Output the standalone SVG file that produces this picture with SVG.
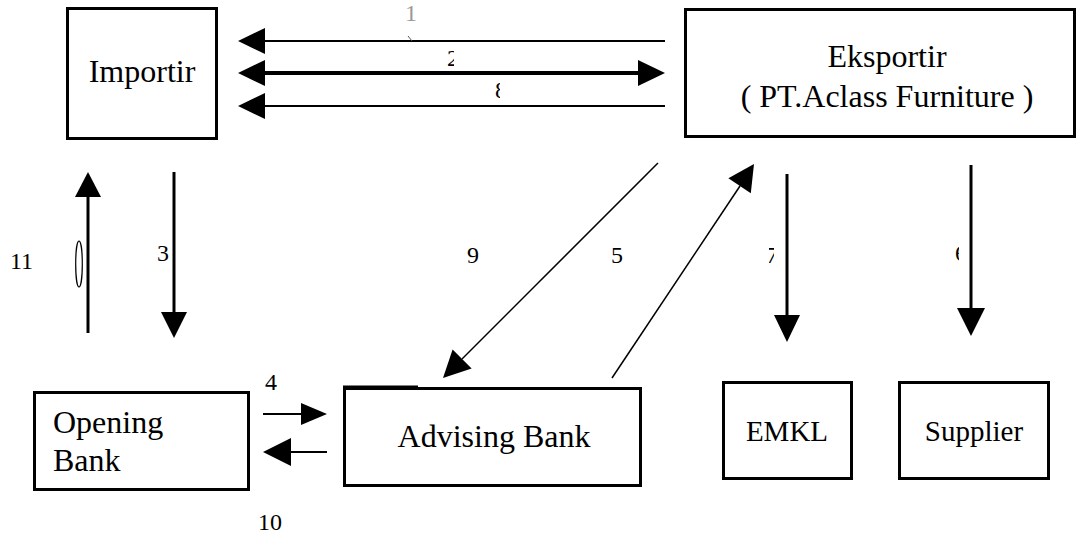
<svg xmlns="http://www.w3.org/2000/svg" width="1078" height="536" viewBox="0 0 1078 536">
  <style>
    .box { fill: #fff; stroke: #000; stroke-width: 3; }
    text { font-family: "Liberation Serif", serif; fill: #000; }
    .big { font-size: 32px; }
    .mid { font-size: 29px; }
    .num { font-size: 24px; }
    .ln { stroke: #000; fill: none; }
    .thin { stroke-width: 2; }
    .hair { stroke-width: 1.5; }
    .thick { stroke-width: 3; }
    .head { fill: #000; stroke: none; }
  </style>
  <defs>
    <clipPath id="clip2"><rect x="440" y="44" width="14" height="26"/></clipPath>
    <clipPath id="clip8"><rect x="490" y="78" width="10" height="24"/></clipPath>
    <clipPath id="clip7"><rect x="769" y="246" width="5" height="18"/></clipPath>
    <clipPath id="clip6"><rect x="950" y="240" width="9" height="24"/></clipPath>
  </defs>
  <rect width="1078" height="536" fill="#fff"/>

  <!-- connectors -->
  <g id="connectors">
    <!-- top flows between the two parties -->
    <line class="ln thin" x1="265" y1="41" x2="665" y2="41"/>
    <polygon class="head" points="238,41 265,28 265,54"/>
    <line class="ln" stroke-width="4" x1="265" y1="73" x2="638" y2="73"/>
    <polygon class="head" points="238,73 265,60 265,86"/>
    <polygon class="head" points="665,73 638,60 638,86"/>
    <line class="ln thin" x1="265" y1="106" x2="665" y2="106"/>
    <polygon class="head" points="238,106 265,93 265,119"/>

    <!-- importir / opening bank -->
    <line class="ln thick" x1="88" y1="197" x2="88" y2="333"/>
    <polygon class="head" points="88,172 75,197 101,197"/>
    <ellipse cx="79" cy="264" rx="3.3" ry="23" fill="none" stroke="#000" stroke-width="1.2"/>
    <line class="ln thick" x1="174" y1="172" x2="174" y2="312"/>
    <polygon class="head" points="174,338 161,312 187,312"/>

    <!-- diagonals to the advising bank -->
    <line class="ln hair" x1="658" y1="163" x2="462" y2="359"/>
    <polygon class="head" points="443,378 471.6,368.4 452.6,349.4"/>
    <line class="ln hair" x1="612" y1="378" x2="740" y2="186"/>
    <polygon class="head" points="754,164 750.8,193.2 728.4,178.2"/>

    <!-- eksportir to EMKL and supplier -->
    <line class="ln thick" x1="787" y1="174" x2="787" y2="315"/>
    <polygon class="head" points="787,342 774,315 800,315"/>
    <line class="ln thick" x1="971" y1="165" x2="971" y2="308"/>
    <polygon class="head" points="971,336 957,308 985,308"/>

    <!-- between the banks -->
    <line class="ln thin" x1="263" y1="414" x2="301" y2="414"/>
    <polygon class="head" points="327,414 301,403 301,425"/>
    <line class="ln thin" x1="291" y1="452" x2="327" y2="452"/>
    <polygon class="head" points="263,452 291,438 291,466"/>
  </g>

  <!-- nodes -->
  <g id="importir">
    <rect class="box" x="67.5" y="8.5" width="149" height="130"/>
    <text class="big" x="142" y="82" text-anchor="middle">Importir</text>
  </g>
  <g id="eksportir">
    <rect class="box" x="685.5" y="9.5" width="389" height="127"/>
    <text class="big" x="887" y="67" text-anchor="middle">Eksportir</text>
    <text class="big" x="887" y="107" text-anchor="middle">( PT.Aclass Furniture )</text>
  </g>
  <g id="opening-bank">
    <rect class="box" x="34.5" y="392.5" width="214" height="97"/>
    <text class="big" x="53" y="433">Opening</text>
    <text class="big" x="53" y="471">Bank</text>
  </g>
  <g id="advising-bank">
    <rect class="box" x="344.5" y="388.5" width="296" height="97"/>
    <line x1="343" y1="386.5" x2="418" y2="386.5" stroke="#000" stroke-width="2"/>
    <text class="big" x="494" y="447" text-anchor="middle">Advising Bank</text>
  </g>
  <g id="emkl">
    <rect class="box" x="723.5" y="382.5" width="128" height="96"/>
    <text class="mid" x="787" y="441" text-anchor="middle">EMKL</text>
  </g>
  <g id="supplier">
    <rect class="box" x="899.5" y="382.5" width="149" height="96"/>
    <text class="mid" x="974" y="441" text-anchor="middle">Supplier</text>
  </g>

  <!-- step numbers -->
  <g id="labels">
    <text class="num" x="405" y="21" style="fill:#999">1</text>
    <line x1="408" y1="36" x2="412" y2="41" stroke="#555" stroke-width="1"/>
    <text class="num" x="447" y="66" clip-path="url(#clip2)">2</text>
    <text class="num" x="495" y="98" clip-path="url(#clip8)">8</text>
    <text class="num" x="10" y="269">11</text>
    <text class="num" x="157" y="261">3</text>
    <text class="num" x="467" y="263">9</text>
    <text class="num" x="611" y="263">5</text>
    <text class="num" x="766" y="263" clip-path="url(#clip7)">7</text>
    <text class="num" x="955" y="261" clip-path="url(#clip6)">6</text>
    <text class="num" x="265" y="390">4</text>
    <text class="num" x="258" y="530">10</text>
  </g>
</svg>
